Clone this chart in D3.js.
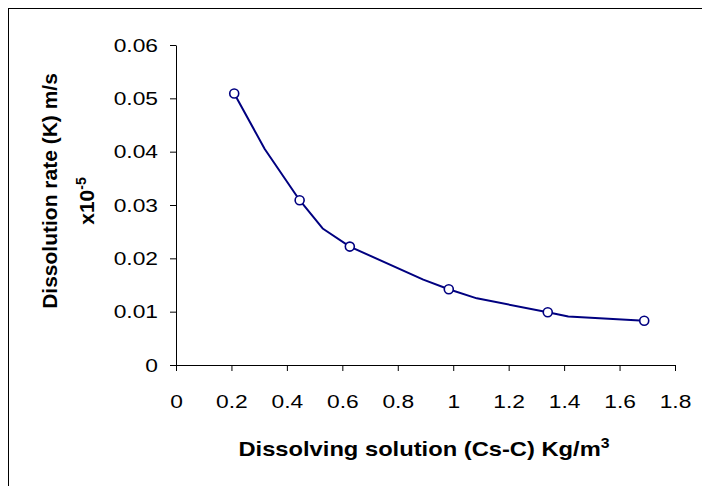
<!DOCTYPE html>
<html>
<head>
<meta charset="utf-8">
<script src="https://cdn.jsdelivr.net/npm/d3@7"></script>
<style>
  html, body { margin: 0; padding: 0; background: #fff; }
  svg { display: block; }
  text { font-family: "Liberation Sans", Arial, sans-serif; fill: #000; }
</style>
</head>
<body>
<svg id="chart" width="702" height="486"></svg>
<script>
// Data
const markerX = [0.21, 0.446, 0.627, 0.984, 1.341, 1.689];
const markerY = [0.0509, 0.0309, 0.0222, 0.0142, 0.0099, 0.0083];
// Line path vertices (including the bends visible between markers)
const lineX = [0.21, 0.32, 0.446, 0.529, 0.627, 0.892, 0.984, 1.085, 1.341, 1.415, 1.689];
const lineY = [0.0509, 0.0405, 0.0309, 0.0256, 0.0222, 0.0160, 0.0142, 0.0125, 0.0099, 0.0091, 0.0083];
const xTicks = [0, 0.2, 0.4, 0.6, 0.8, 1, 1.2, 1.4, 1.6, 1.8];
const yTicks = [0, 0.01, 0.02, 0.03, 0.04, 0.05, 0.06];

const svg = d3.select("#chart");
const navy = "#000080";
const stretch = 1.2;

// Chart area border (extends past the right and bottom edges)
svg.append("rect")
  .attr("x", 8.5).attr("y", 8.5)
  .attr("width", 800).attr("height", 800)
  .attr("fill", "none").attr("stroke", "#000").attr("stroke-width", 1);

const x = d3.scaleLinear().domain([0, 1.8]).range([176, 675]);
const y = d3.scaleLinear().domain([0, 0.06]).range([365, 45]);

const fmt = d => d === 0 ? "0" : String(d);

// X axis
const gx = svg.append("g").attr("transform", `translate(0,${y(0)})`)
  .call(d3.axisBottom(x).tickValues(xTicks).tickFormat(fmt).tickSize(6).tickSizeOuter(0));
gx.select(".domain").attr("stroke", "#000");
gx.selectAll(".tick line").attr("stroke", "#000");
gx.selectAll(".tick text")
  .attr("font-size", 19).attr("font-family", "Liberation Sans, Arial, sans-serif")
  .attr("dy", 0).attr("x", 0).attr("y", 0)
  .attr("transform", `translate(0,43) scale(${stretch},1)`);

// Y axis
const gy = svg.append("g").attr("transform", `translate(${x(0)},0)`)
  .call(d3.axisLeft(y).tickValues(yTicks).tickFormat(fmt).tickSize(6).tickSizeOuter(0));
gy.select(".domain").attr("stroke", "#000");
gy.selectAll(".tick line").attr("stroke", "#000");
gy.selectAll(".tick text")
  .attr("font-size", 19).attr("font-family", "Liberation Sans, Arial, sans-serif")
  .attr("x", 0)
  .attr("transform", `translate(-18,0) scale(${stretch},1)`);

// Line
const pts = lineX.map((v, i) => [v, lineY[i]]);
svg.append("path")
  .datum(pts)
  .attr("fill", "none")
  .attr("stroke", navy)
  .attr("stroke-width", 2)
  .attr("stroke-linejoin", "round")
  .attr("d", d3.line().x(d => x(d[0])).y(d => y(d[1])).curve(d3.curveLinear));

// Markers
svg.append("g").selectAll("circle")
  .data(markerX.map((v, i) => [v, markerY[i]]))
  .join("circle")
  .attr("cx", d => x(d[0]))
  .attr("cy", d => y(d[1]))
  .attr("r", 4.5)
  .attr("fill", "#fff")
  .attr("stroke", navy)
  .attr("stroke-width", 1.6);

// Axis titles
const xt = svg.append("text")
  .attr("transform", "translate(424,456) scale(1.13,1)")
  .attr("text-anchor", "middle")
  .attr("font-size", 21).attr("font-weight", "bold");
xt.append("tspan").text("Dissolving solution (Cs-C) Kg/m");
xt.append("tspan").attr("dy", -8).attr("font-size", 14).text("3");

svg.append("text")
  .attr("transform", "translate(57,191) rotate(-90)")
  .attr("text-anchor", "middle")
  .attr("font-size", 21).attr("font-weight", "bold")
  .text("Dissolution rate (K) m/s");

const yt2 = svg.append("text")
  .attr("transform", "translate(94,201) rotate(-90)")
  .attr("text-anchor", "middle")
  .attr("font-size", 21).attr("font-weight", "bold");
yt2.append("tspan").text("x10");
yt2.append("tspan").attr("dy", -8).attr("font-size", 14).text("-5");
</script>
</body>
</html>
